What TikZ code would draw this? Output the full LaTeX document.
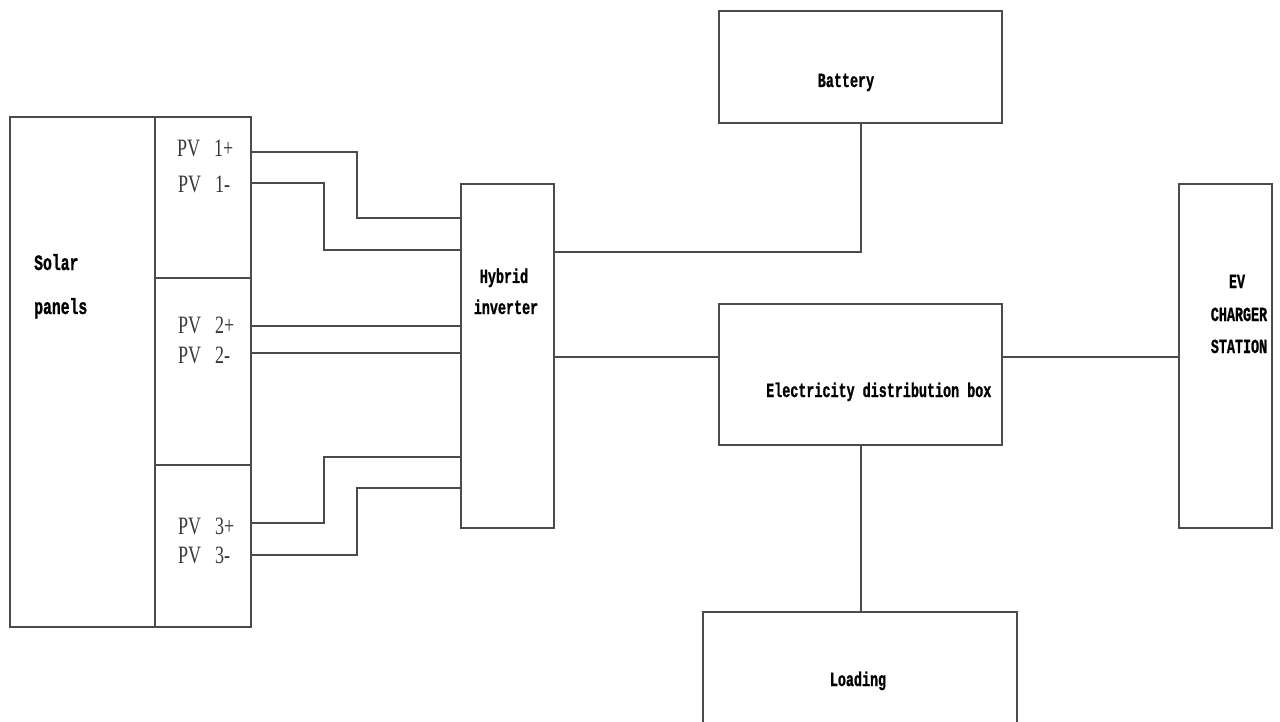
\documentclass[tikz,border=0pt]{standalone}
\usepackage{fontspec}
\newfontfamily\pvfont[FakeStretch=0.72]{Liberation Serif}
\newfontfamily\lblfont[FakeStretch=0.67,BoldFeatures={FakeBold=1}]{Liberation Mono}
\definecolor{linec}{RGB}{75,75,75}
\definecolor{pvc}{RGB}{55,55,55}
\begin{document}
\begin{tikzpicture}[x=1pt,y=-1pt,
  box/.style={draw=linec, line width=1.5pt, inner sep=0pt, outer sep=0pt},
  wire/.style={draw=linec, line width=1.5pt},
  pv/.style={font=\pvfont\fontsize{25}{25}\selectfont, text=pvc, anchor=base west, inner sep=0pt},
  lbl/.style={font=\lblfont\bfseries\fontsize{20}{20}\selectfont, inner sep=0pt, anchor=base},
  biglbl/.style={font=\lblfont\bfseries\fontsize{22}{22}\selectfont, inner sep=0pt, anchor=base west}]
\useasboundingbox (0,0) rectangle (1280,722);
\clip (0,0) rectangle (1280,722);
% solar panels block
\node[box, minimum width=145pt, minimum height=510pt] (solar) at (82.5,372) {};
\node[box, minimum width=96pt, minimum height=161pt] (pv1) at (203,197.5) {};
\node[box, minimum width=96pt, minimum height=187pt] (pv2) at (203,371.5) {};
\node[box, minimum width=96pt, minimum height=162pt] (pv3) at (203,546) {};
\node[biglbl] (solart) at (34,270) {Solar};
\node[biglbl] (panelst) at (34,314) {panels};
\node[pv] (l1p) at (177,157) {PV\hspace{14pt}1+};
\node[pv] (l1m) at (178,193) {PV\hspace{14pt}1-};
\node[pv] (l2p) at (178,333) {PV\hspace{14pt}2+};
\node[pv] (l2m) at (178,363) {PV\hspace{14pt}2-};
\node[pv] (l3p) at (178,534) {PV\hspace{14pt}3+};
\node[pv] (l3m) at (178,563) {PV\hspace{14pt}3-};
% other blocks
\node[box, minimum width=93pt, minimum height=344pt] (inv) at (507.5,356) {};
\node[lbl] (invt1) at (504,283) {Hybrid};
\node[lbl] (invt2) at (506,314) {inverter};
\node[box, minimum width=283pt, minimum height=112pt] (bat) at (860.5,67) {};
\node[lbl] (batt) at (846,87) {Battery};
\node[box, minimum width=283pt, minimum height=141pt] (dist) at (860.5,374.5) {};
\node[lbl, anchor=base west] (distt) at (766,397) {Electricity distribution box};
\node[box, minimum width=93pt, minimum height=344pt] (ev) at (1225.5,356) {};
\node[lbl] (evt1) at (1237,288) {EV};
\node[lbl] (evt2) at (1239,321) {CHARGER};
\node[lbl] (evt3) at (1239,353) {STATION};
\node[box, minimum width=314pt, minimum height=160pt] (load) at (860,692) {};
\node[lbl] (loadt) at (858,686) {Loading};
% terminals
\coordinate (t1p) at (251,152);
\coordinate (t1m) at (251,183);
\coordinate (t2p) at (251,326);
\coordinate (t2m) at (251,353);
\coordinate (t3p) at (251,523);
\coordinate (t3m) at (251,555);
\coordinate (i1p) at (461,218);
\coordinate (i1m) at (461,250);
\coordinate (i2p) at (461,326);
\coordinate (i2m) at (461,353);
\coordinate (i3p) at (461,457);
\coordinate (i3m) at (461,488);
\coordinate (ib) at (554,252);
\coordinate (id) at (554,357);
\coordinate (bs) at ([xshift=0.5pt]bat.south);
\coordinate (ds) at ([xshift=0.5pt]dist.south);
% wires
\draw[wire] (t1p) -- ++(106,0) |- (i1p);
\draw[wire] (t1m) -- ++(73,0) |- (i1m);
\draw[wire] (t2p) -- (i2p);
\draw[wire] (t2m) -- (i2m);
\draw[wire] (t3p) -- ++(73,0) |- (i3p);
\draw[wire] (t3m) -- ++(106,0) |- (i3m);
\draw[wire] (ib) -| (bs);
\draw[wire] (id) -- (id -| dist.west);
\draw[wire] (id -| dist.east) -- (id -| ev.west);
\draw[wire] (ds) -- (ds |- load.north);
\end{tikzpicture}
\end{document}
